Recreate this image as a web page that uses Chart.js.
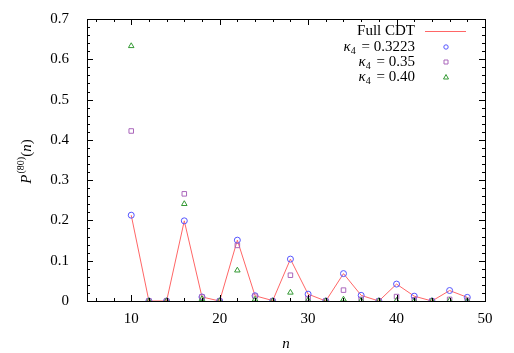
<!DOCTYPE html>
<html>
<head>
<meta charset="utf-8">
<script src="https://cdn.jsdelivr.net/npm/chart.js@4/dist/chart.umd.min.js"></script>
<style>
  html, body { margin: 0; padding: 0; background: #fff; }
  #wrap { width: 514px; height: 353px; }
</style>
</head>
<body>
<div id="wrap"><canvas id="c" width="514" height="353"></canvas></div>
<script>
// n values (even sizes)
const nValues = [10, 12, 14, 16, 18, 20, 22, 24, 26, 28, 30, 32, 34, 36, 38, 40, 42, 44, 46, 48];

const fullCDT = [0.213, 0, 0, 0.199, 0.010, 0, 0.151, 0.013, 0.001, 0.104, 0.017, 0, 0.068, 0.014, 0, 0.042, 0.012, 0, 0.026, 0.009];
const k3223   = [0.213, 0, 0, 0.199, 0.010, 0, 0.151, 0.013, 0, 0.104, 0.017, 0, 0.068, 0.014, 0, 0.042, 0.012, 0, 0.026, 0.009];
const k35     = [0.422, 0, 0, 0.266, 0.010, 0, 0.138, 0.012, 0, 0.064, 0.006, 0, 0.027, 0.004, 0, 0.011, 0.003, 0, 0.004, 0.002];
const k40     = [0.633, 0, 0, 0.241, 0.005, 0, 0.076, 0.004, 0, 0.021, 0.002, 0, 0.004, 0.001, 0, 0.001, 0, 0, 0.001, 0];

const xTicks = [10, 20, 30, 40, 50];
const yTicks = [0, 0.1, 0.2, 0.3, 0.4, 0.5, 0.6, 0.7];

const legendRows = [
  { text: 'Full CDT', kind: 'line', color: '#ff6666' },
  { text: 'κ₄ = 0.3223', kind: 'circle', color: '#5555ff' },
  { text: 'κ₄ = 0.35', kind: 'rect', color: '#aa66bb' },
  { text: 'κ₄ = 0.40', kind: 'triangle', color: '#339933' }
];

const font = '"Liberation Serif", "DejaVu Serif", serif';

function pts(arr) {
  return nValues.map((n, i) => ({ x: n, y: arr[i] }));
}

// gnuplot-style frame: inward ticks on all sides, plus titles and legend
const framePlugin = {
  id: 'frame',
  afterDraw(chart) {
    const ctx = chart.ctx;
    const a = chart.chartArea;
    const xs = chart.scales.x;
    const ys = chart.scales.y;
    ctx.save();
    ctx.strokeStyle = '#000';
    ctx.lineWidth = 1;
    ctx.strokeRect(a.left + 0.5, a.top + 0.5, a.right - a.left, a.bottom - a.top);
    ctx.beginPath();
    for (let v = 6; v < 50; v += 2) {
      const px = Math.round(xs.getPixelForValue(v)) + 0.5;
      const len = v % 10 === 0 ? 6 : 3;
      ctx.moveTo(px, a.bottom); ctx.lineTo(px, a.bottom - len);
      ctx.moveTo(px, a.top); ctx.lineTo(px, a.top + len);
    }
    for (let k = 1; k < 35; k++) {
      const v = k * 0.02;
      const py = Math.round(ys.getPixelForValue(v)) + 0.5;
      const len = k % 5 === 0 ? 6 : 3;
      ctx.moveTo(a.left, py); ctx.lineTo(a.left + len, py);
      ctx.moveTo(a.right, py); ctx.lineTo(a.right - len, py);
    }
    ctx.stroke();

    // axis titles
    ctx.fillStyle = '#000';
    ctx.font = 'italic 15px ' + font;
    ctx.textAlign = 'center';
    ctx.textBaseline = 'middle';
    ctx.fillText('n', (a.left + a.right) / 2, 344);

    ctx.save();
    ctx.translate(27, 162);
    ctx.rotate(-Math.PI / 2);
    ctx.textAlign = 'left';
    const p1 = 'P';
    const sup = '(80)';
    const p2 = '(n)';
    ctx.font = 'italic 15px ' + font;
    const w1 = ctx.measureText(p1).width;
    ctx.font = '10px ' + font;
    const ws = ctx.measureText(sup).width;
    ctx.font = 'italic 15px ' + font;
    const w2 = ctx.measureText(p2).width;
    let x0 = -(w1 + ws + w2) / 2;
    ctx.fillText(p1, x0, 0);
    ctx.font = '10px ' + font;
    ctx.fillText(sup, x0 + w1 + 1, -6);
    ctx.font = '15px ' + font;
    ctx.fillText('(', x0 + w1 + ws + 1, 0);
    const wp = ctx.measureText('(').width;
    ctx.font = 'italic 15px ' + font;
    ctx.fillText('n', x0 + w1 + ws + 1 + wp, 0);
    const wn = ctx.measureText('n').width;
    ctx.font = '15px ' + font;
    ctx.fillText(')', x0 + w1 + ws + 1 + wp + wn, 0);
    ctx.restore();

    // legend
    const rowY = [31, 47, 62, 77];
    legendRows.forEach((r, i) => {
      const y = rowY[i];
      ctx.fillStyle = '#000';
      ctx.textAlign = 'right';
      ctx.textBaseline = 'middle';
      if (r.kind === 'line') {
        ctx.font = '15px ' + font;
        ctx.fillText(r.text, 415, y);
        ctx.strokeStyle = r.color;
        ctx.beginPath();
        ctx.moveTo(425, y + 0.5); ctx.lineTo(466, y + 0.5);
        ctx.stroke();
      } else {
        const rest = r.text.slice(2);
        ctx.font = '15px ' + font;
        const wr = ctx.measureText(rest).width;
        ctx.fillText(rest, 415, y);
        ctx.font = 'italic 15px ' + font;
        ctx.fillText('κ', 415 - wr - 7, y);
        ctx.font = '10px ' + font;
        ctx.textAlign = 'left';
        ctx.fillText('4', 415 - wr - 7, y + 4);
        ctx.strokeStyle = r.color;
        ctx.beginPath();
        const cx = 446, cy = y;
        if (r.kind === 'circle') {
          ctx.arc(cx, cy, 2.2, 0, Math.PI * 2);
        } else if (r.kind === 'rect') {
          ctx.rect(cx - 2, cy - 2, 4, 4);
        } else {
          ctx.moveTo(cx, cy - 2.5); ctx.lineTo(cx + 2.5, cy + 2); ctx.lineTo(cx - 2.5, cy + 2); ctx.closePath();
        }
        ctx.stroke();
      }
    });
    ctx.restore();
  }
};

new Chart(document.getElementById('c'), {
  type: 'scatter',
  data: {
    datasets: [
      { label: 'Full CDT', data: pts(fullCDT), showLine: true, borderColor: '#ff6666', borderWidth: 1, pointRadius: 0, order: 4 },
      { label: 'k0.3223', data: pts(k3223), pointStyle: 'circle', pointRadius: 3, borderColor: '#5555ff', backgroundColor: 'rgba(0,0,0,0)', pointBorderWidth: 1, order: 3 },
      { label: 'k0.35', data: pts(k35), pointStyle: 'rect', pointRadius: 3.2, borderColor: '#aa66bb', backgroundColor: 'rgba(0,0,0,0)', pointBorderWidth: 1, order: 2 },
      { label: 'k0.40', data: pts(k40), pointStyle: 'triangle', pointRadius: 3.2, borderColor: '#339933', backgroundColor: 'rgba(0,0,0,0)', pointBorderWidth: 1, order: 1 }
    ]
  },
  options: {
    responsive: false,
    animation: false,
    layout: { padding: { left: 0, right: 29, top: 19, bottom: 0 } },
    plugins: { legend: { display: false }, tooltip: { enabled: false } },
    scales: {
      x: {
        type: 'linear', min: 5, max: 50,
        afterBuildTicks: s => { s.ticks = xTicks.map(v => ({ value: v })); },
        afterFit: s => { s.height = 52; },
        grid: { display: false },
        border: { display: false },
        ticks: { color: '#000', font: { family: font, size: 15 }, padding: 1, maxRotation: 0 }
      },
      y: {
        type: 'linear', min: 0, max: 0.7,
        afterBuildTicks: s => { s.ticks = yTicks.map(v => ({ value: v })); },
        afterFit: s => { s.width = 87; },
        grid: { display: false },
        border: { display: false },
        ticks: { color: '#000', font: { family: font, size: 15 }, padding: 10, callback: v => String(Math.round(v * 10) / 10) }
      }
    }
  },
  plugins: [framePlugin]
});
</script>
</body>
</html>
